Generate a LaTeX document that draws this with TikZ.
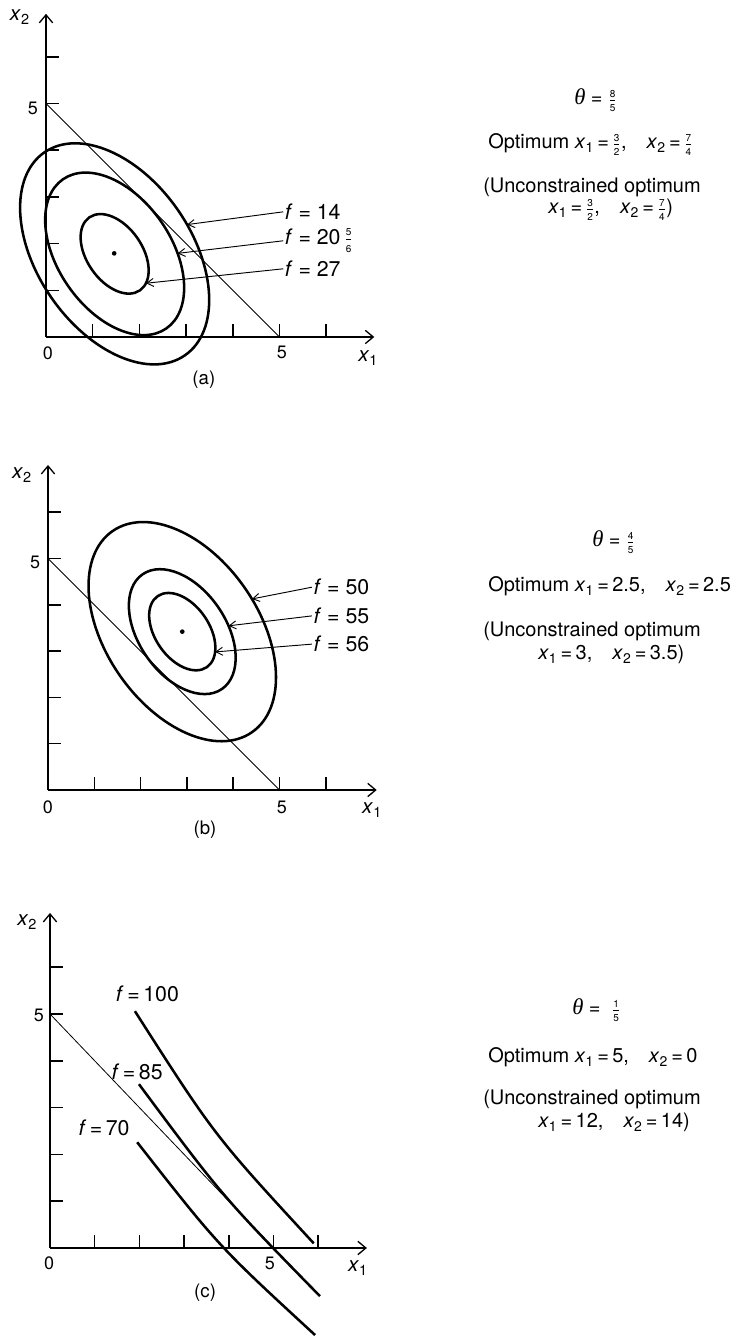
\documentclass[tikz,border=0pt]{standalone}
\usepackage{fontspec}
\setmainfont{TeX Gyre Heros}
\newfontfamily\thetafont{Liberation Serif}
\usetikzlibrary{arrows.meta}
\newcommand\fr[2]{$\frac{\mbox{\fontsize{7.5}{8}\selectfont #1}}{\mbox{\fontsize{7.5}{8}\selectfont #2}}$}
\newcommand\xs[1]{\textit{x}\textsubscript{#1}}
\newcommand\thetaeq{{\fontsize{17}{18}\thetafont\itshape θ}\;=\;}
\begin{document}
\begin{tikzpicture}[x=0.75pt,y=0.75pt,
  axis/.style={line width=1.2pt, -{Straight Barb[length=6pt,width=10pt,line width=1pt]}},
  tickmark/.style={line width=1.1pt},
  constraint/.style={line width=0.6pt},
  contour/.style={line width=1.9pt},
  lblarrow/.style={line width=0.7pt, -{Straight Barb[length=5pt,width=6pt,line width=0.7pt]}},
  axlabel/.style={font=\fontsize{13.5}{15}\selectfont, inner sep=0pt},
  caplabel/.style={font=\fontsize{14}{16}\selectfont, inner sep=0pt},
  varlabel/.style={font=\fontsize{15.5}{18}\selectfont, inner sep=0pt},
  flabel/.style={font=\fontsize{16}{18}\selectfont, inner sep=1pt},
  sidetext/.style={font=\fontsize{15}{18}\selectfont, inner sep=0pt, anchor=base west},
  dot/.style={circle, fill, inner sep=0pt, minimum size=3.5pt}]
\useasboundingbox (0,0) rectangle (740,1337);

% ---------------- panel (a)
\begin{scope}[shift={(34.5pt,750pt)}, x=35.025pt, y=35.025pt]
  \coordinate (Oa) at (0,0);
  \coordinate (Xa) at (7.03,0);
  \coordinate (Ya) at (0,6.92);
  \coordinate (Ca1) at (0,5);
  \coordinate (Ca2) at (5,0);
  \draw[axis] (Oa) -- (Xa);
  \draw[axis] (Oa) -- (Ya);
  \foreach \i in {1,...,6} {
    \draw[tickmark] (\i,0) -- (\i,0.28);
    \draw[tickmark] (0,\i) -- (0.28,\i);
  }
  \draw[constraint] (Ca1) -- (Ca2);
  \begin{scope}[shift={(1.47,1.78)}, rotate=124.7]
    \draw[contour] (0,0) ellipse [x radius=2.643, y radius=1.648];
    \draw[contour] (0,0) ellipse [x radius=1.943, y radius=1.211];
    \draw[contour] (0,0) ellipse [x radius=0.951, y radius=0.593];
    \coordinate (pa14) at (-98:2.643 and 1.648);
    \coordinate (pa20) at (-113:1.943 and 1.211);
    \coordinate (pa27) at (-161:0.951 and 0.593);
  \end{scope}
  \node[dot] (ca) at (1.46,1.79) {};
  \node[flabel, anchor=west] (la14) at (5.08,2.68) {\textit{f} = 14};
  \node[flabel, anchor=west] (la20) at (5.08,2.06) {\textit{f} = 20\,\fr{5}{6}};
  \node[flabel, anchor=west] (la27) at (5.08,1.46) {\textit{f} = 27};
  \draw[lblarrow] (la14.west) -- (pa14);
  \draw[lblarrow] (la20.west) -- (pa20);
  \draw[lblarrow] (la27.west) -- (pa27);
  \node[varlabel] (yla) at (-0.56,6.85) {\xs{2}};
  \node[axlabel] (y5a) at (-0.28,4.9) {5};
  \node[axlabel] (x0a) at (0.04,-0.34) {0};
  \node[axlabel] (x5a) at (5.05,-0.34) {5};
  \node[varlabel] (xla) at (6.9,-0.45) {\xs{1}};
  \node[caplabel] (capa) at (3.38,-0.92) {(a)};
\end{scope}

% ---------------- panel (b)
\begin{scope}[shift={(36pt,410.25pt)}, x=34.725pt, y=34.725pt]
  \coordinate (Ob) at (0,0);
  \coordinate (Xb) at (7.1,0);
  \coordinate (Yb) at (0,7.02);
  \coordinate (Cb1) at (0,5);
  \coordinate (Cb2) at (5,0);
  \draw[axis] (Ob) -- (Xb);
  \draw[axis] (Ob) -- (Yb);
  \foreach \i in {1,...,6} {
    \draw[tickmark] (\i,0) -- (\i,0.28);
    \draw[tickmark] (0,\i) -- (0.28,\i);
  }
  \draw[constraint] (Cb1) -- (Cb2);
  \begin{scope}[shift={(2.9,3.42)}, rotate=124.7]
    \draw[contour] (0,0) ellipse [x radius=2.643, y radius=1.648];
    \draw[contour] (0,0) ellipse [x radius=1.506, y radius=0.939];
    \draw[contour] (0,0) ellipse [x radius=0.933, y radius=0.582];
    \coordinate (pb50) at (-96:2.643 and 1.648);
    \coordinate (pb55) at (-108:1.506 and 0.939);
    \coordinate (pb56) at (-145:0.933 and 0.582);
  \end{scope}
  \node[dot] (cb) at (2.9,3.42) {};
  \node[flabel, anchor=west] (lb50) at (5.7,4.38) {\textit{f} = 50};
  \node[flabel, anchor=west] (lb55) at (5.7,3.76) {\textit{f} = 55};
  \node[flabel, anchor=west] (lb56) at (5.7,3.15) {\textit{f} = 56};
  \draw[lblarrow] (lb50.west) -- (pb50);
  \draw[lblarrow] (lb55.west) -- (pb55);
  \draw[lblarrow] (lb56.west) -- (pb56);
  \node[varlabel] (ylb) at (-0.56,6.8) {\xs{2}};
  \node[axlabel] (y5b) at (-0.28,4.92) {5};
  \node[axlabel] (x0b) at (0,-0.37) {0};
  \node[axlabel] (x5b) at (5.05,-0.37) {5};
  \node[varlabel] (xlb) at (7.0,-0.43) {\xs{1}};
  \node[caplabel] (capb) at (3.39,-0.86) {(b)};
\end{scope}

% ---------------- panel (c)
\begin{scope}[shift={(37.5pt,66.75pt)}, x=33.525pt, y=35.1pt]
  \coordinate (Oc) at (0,0);
  \coordinate (Xc) at (7.09,0);
  \coordinate (Yc) at (0,7.16);
  \coordinate (Cc1) at (0,5);
  \coordinate (Cc2) at (5,0);
  \draw[axis] (Oc) -- (Xc);
  \draw[axis] (Oc) -- (Yc);
  \foreach \i in {1,...,6} {
    \draw[tickmark] (\i,0) -- (\i,0.28);
    \draw[tickmark] (0,\i) -- (0.28,\i);
  }
  \draw[constraint] (Cc1) -- (Cc2);
  \coordinate (c100s) at (1.9,5.06);
  \coordinate (c100e) at (5.9,0.1);
  \coordinate (c85s) at (1.99,3.5);
  \coordinate (c85e) at (6.04,-1.03);
  \coordinate (c70s) at (1.95,2.26);
  \coordinate (c70e) at (5.93,-1.86);
  \draw[contour] (c100s) .. controls (3.68,2.40) .. (c100e);
  \draw[contour] (c85s) .. controls (3.86,1.10) .. (c85e);
  \draw[contour] (c70s) .. controls (3.77,0.04) .. (c70e);
  \node[flabel] (lc100) at (2.18,5.43) {\textit{f}\,=\,100};
  \node[flabel] (lc85) at (1.95,3.76) {\textit{f}\,=\,85};
  \node[flabel] (lc70) at (1.21,2.56) {\textit{f}\,=\,70};
  \node[varlabel] (ylc) at (-0.51,6.97) {\xs{2}};
  \node[axlabel] (y5c) at (-0.25,4.96) {5};
  \node[axlabel] (x0c) at (-0.02,-0.32) {0};
  \node[axlabel] (x5c) at (4.92,-0.32) {5};
  \node[varlabel] (xlc) at (6.89,-0.43) {\xs{1}};
  \node[caplabel] (capc) at (3.47,-0.96) {(c)};
\end{scope}

% ---------------- side texts
\node[sidetext] (tha) at (574,1232) {\thetaeq\fr{8}{5}};
\node[sidetext] (opta) at (488,1188) {Optimum \xs{1}\,=\,\fr{3}{2},\quad \xs{2}\,=\,\fr{7}{4}};
\node[sidetext] (unca) at (483,1144) {(Unconstrained optimum};
\node[sidetext] (uncaa) at (548,1123) {\xs{1}\,=\,\fr{3}{2},\quad \xs{2}\,=\,\fr{7}{4})};

\node[sidetext] (thb) at (592,790) {\thetaeq\fr{4}{5}};
\node[sidetext] (optb) at (488,745) {Optimum \xs{1}\,=\,2.5,\quad \xs{2}\,=\,2.5};
\node[sidetext] (uncb) at (483,700) {(Unconstrained optimum};
\node[sidetext] (uncbb) at (538,677) {\xs{1}\,=\,3,\quad \xs{2}\,=\,3.5)};

\node[sidetext] (thc) at (572,322) {\thetaeq\;\fr{1}{5}};
\node[sidetext] (optc) at (488,274) {Optimum \xs{1}\,=\,5,\quad \xs{2}\,=\,0};
\node[sidetext] (uncc) at (483,232) {(Unconstrained optimum};
\node[sidetext] (unccc) at (538,209) {\xs{1}\,=\,12,\quad \xs{2}\,=\,14)};
\end{tikzpicture}
\end{document}
